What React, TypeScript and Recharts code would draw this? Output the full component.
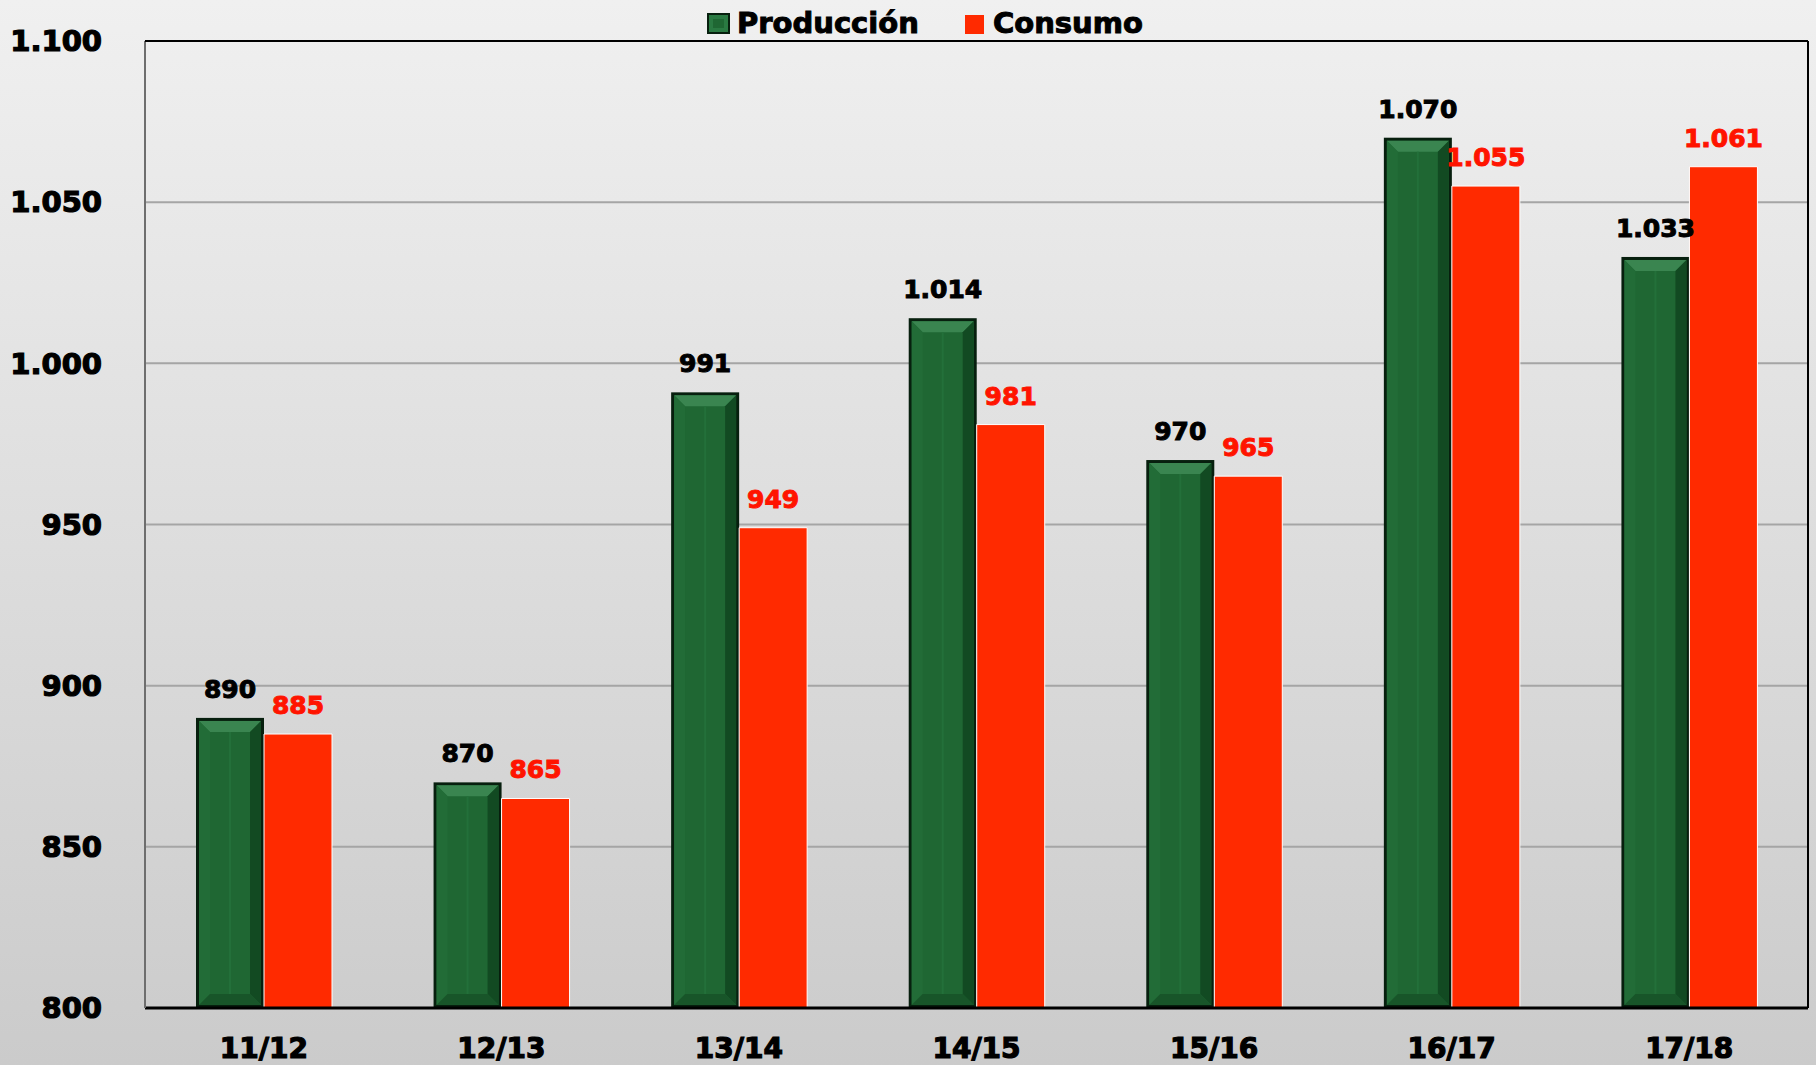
import { Bar, BarChart, CartesianGrid, LabelList, XAxis, YAxis } from 'recharts';

const campaigns = ['11/12', '12/13', '13/14', '14/15', '15/16', '16/17', '17/18'];
const produccion = [890, 870, 991, 1014, 970, 1070, 1033];
const consumo = [885, 865, 949, 981, 965, 1055, 1061];
const yTicks = [800, 850, 900, 950, 1000, 1050, 1100];

const data = campaigns.map((c, i) => ({
  campaign: c,
  produccion: produccion[i],
  consumo: consumo[i],
}));

const FONT = '"DejaVu Sans", Arial, sans-serif';
const RED = '#ff2a00';
const LABEL_RED = '#ff1400';

const fmt = (v: number) => String(v).replace(/\B(?=(\d{3})+(?!\d))/g, '.');

function BevelBar(props: any) {
  const { x, y, width: w, height: h } = props;
  if (!h || h <= 0) return null;
  const b = 11;
  const ix = x + 3;
  const iy = y + 3;
  const iw = w - 6;
  const ih = h - 6;
  return (
    <g>
      <rect x={x} y={y} width={w} height={h} fill="#071f0e" />
      <rect x={ix} y={iy} width={iw} height={ih} fill="#1f6733" />
      <polygon
        points={`${ix},${iy} ${ix + iw},${iy} ${ix + iw - b},${iy + b} ${ix + b},${iy + b}`}
        fill="#3a8550"
      />
      <polygon
        points={`${ix},${iy} ${ix + b},${iy + b} ${ix + b},${iy + ih - b} ${ix},${iy + ih}`}
        fill="#226c37"
      />
      <polygon
        points={`${ix + iw},${iy} ${ix + iw - b},${iy + b} ${ix + iw - b},${iy + ih - b} ${ix + iw},${iy + ih}`}
        fill="#124a22"
      />
      <polygon
        points={`${ix},${iy + ih} ${ix + b},${iy + ih - b} ${ix + iw - b},${iy + ih - b} ${ix + iw},${iy + ih}`}
        fill="#185529"
      />
      <line x1={ix + iw / 2} y1={iy + b} x2={ix + iw / 2} y2={iy + ih - b} stroke="#23703a" strokeWidth={2} />
    </g>
  );
}

function LegendBox() {
  return (
    <svg
      width={1816}
      height={40}
      style={{ position: 'absolute', left: 0, top: 0, pointerEvents: 'none' }}
    >
      <rect x={707} y={13} width={23} height={21} fill="#071f0e" />
      <rect x={709} y={15} width={19} height={17} fill="#2a7a42" />
      <rect x={713} y={19} width={11} height={9} fill="#1f6733" />
      <text x={737} y={33} fontFamily={FONT} fontWeight="bold" fontSize={29} fill="#000" stroke="#000" strokeWidth={1}>
        Producción
      </text>
      <rect x={965} y={15} width={19} height={19} fill={RED} />
      <text x={993} y={33} fontFamily={FONT} fontWeight="bold" fontSize={29} fill="#000" stroke="#000" strokeWidth={1}>
        Consumo
      </text>
    </svg>
  );
}

export default function App() {
  return (
    <div
      style={{
        position: 'absolute',
        left: 0,
        top: 0,
        width: 1816,
        height: 1065,
        background: 'linear-gradient(#f0f0f0, #cbcbcb)',
      }}
    >
      <BarChart
        width={1816}
        height={1065}
        data={data}
        margin={{ top: 41, right: 0, bottom: 0, left: 0 }}
        barSize={68}
        barGap={0}
      >
        <CartesianGrid vertical={false} stroke="#a5a5a5" strokeWidth={2} />
        <XAxis
          dataKey="campaign"
          height={57}
          tickLine={false}
          tickSize={0}
          tickMargin={30}
          axisLine={{ stroke: '#000', strokeWidth: 3 }}
          tick={{ fill: '#000', stroke: '#000', strokeWidth: 1.2, fontSize: 28, fontWeight: 'bold', fontFamily: FONT }}
        />
        <YAxis
          width={145}
          domain={[800, 1100]}
          ticks={yTicks}
          interval={0}
          tickFormatter={fmt}
          tickLine={false}
          tickSize={0}
          tickMargin={43}
          axisLine={{ stroke: '#6e6e6e', strokeWidth: 2 }}
          tick={{ fill: '#000', stroke: '#000', strokeWidth: 1.2, fontSize: 29, fontWeight: 'bold', fontFamily: FONT }}
        />
        <YAxis
          yAxisId="right"
          orientation="right"
          width={8}
          domain={[800, 1100]}
          ticks={yTicks}
          tick={false}
          tickLine={false}
          axisLine={{ stroke: '#000', strokeWidth: 2 }}
        />
        <Bar dataKey="produccion" shape={<BevelBar />} isAnimationActive={false}>
          <LabelList
            dataKey="produccion"
            position="top"
            offset={20}
            formatter={(v: any) => fmt(Number(v))}
            fill="#000"
            stroke="#000"
            strokeWidth={1}
            fontSize={25}
            fontWeight="bold"
            fontFamily={FONT}
          />
        </Bar>
        <Bar dataKey="consumo" fill={RED} stroke="#ffffff" strokeWidth={1} isAnimationActive={false}>
          <LabelList
            dataKey="consumo"
            position="top"
            offset={20}
            formatter={(v: any) => fmt(Number(v))}
            fill={LABEL_RED}
            stroke={LABEL_RED}
            strokeWidth={1}
            fontSize={25}
            fontWeight="bold"
            fontFamily={FONT}
          />
        </Bar>
      </BarChart>
      <svg width={1816} height={1065} style={{ position: 'absolute', left: 0, top: 0, pointerEvents: 'none' }}>
        <line x1={145} y1={41} x2={1808} y2={41} stroke="#000" strokeWidth={2} />
      </svg>
      <LegendBox />
    </div>
  );
}
